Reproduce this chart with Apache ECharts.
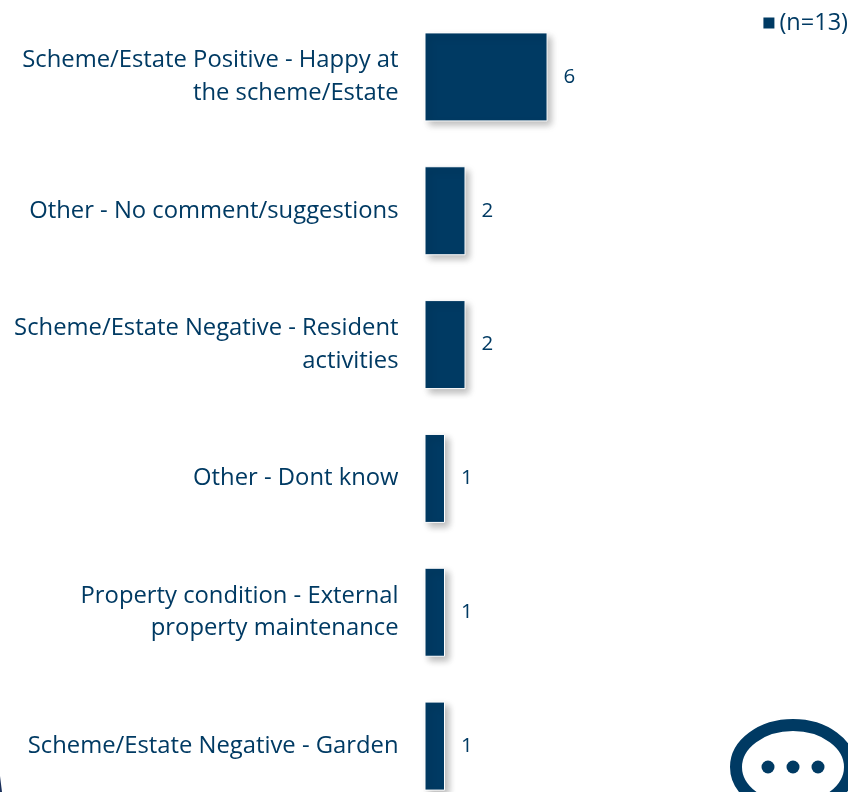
<!DOCTYPE html>
<html><head><meta charset="utf-8">
<style>html,body{margin:0;padding:0;background:#fff;overflow:hidden}#c{width:848px;height:792px}</style>
<script src="https://cdn.jsdelivr.net/npm/echarts@6/dist/echarts.min.js"></script>
</head><body><div id="c"></div>
<script>
const categories = [
  "Scheme/Estate Positive - Happy at\nthe scheme/Estate",
  "Other - No comment/suggestions",
  "Scheme/Estate Negative - Resident\nactivities",
  "Other - Dont know",
  "Property condition - External\nproperty maintenance",
  "Scheme/Estate Negative - Garden"
];
const values = [6, 2, 2, 1, 1, 1];
const seriesName = "(n=13)";
const navy = "#003a63";
const font = "Open Sans";
const chart = echarts.init(document.getElementById('c'), null, {renderer:'canvas'});
chart.setOption({
  animation:false,
  textStyle:{fontFamily:font,color:navy},
  legend:{show:true,top:11,right:0,padding:0,itemWidth:13,itemHeight:13,itemGap:6,icon:'rect',
    textStyle:{fontFamily:font,fontSize:23.5,color:navy,padding:[0,0,0,-1]},data:[seriesName]},
  grid:{left:424.5,top:10,width:400,height:803,outerBoundsMode:'none'},
  xAxis:{type:'value',min:0,max:19.5,show:false},
  yAxis:{type:'category',inverse:true,data:categories,
    axisLine:{show:false},axisTick:{show:false},
    axisLabel:{margin:26,align:'right',fontFamily:font,fontSize:23.8,lineHeight:32.5,color:navy}},
  series:[{type:'bar',name:seriesName,data:values,barWidth:89,
    itemStyle:{color:navy,borderColor:'#fff',borderWidth:1,shadowColor:'rgba(0,0,0,0.28)',shadowBlur:7,shadowOffsetX:4,shadowOffsetY:4},
    label:{show:true,position:'right',distance:16,fontFamily:font,fontSize:20.5,color:navy}}],
  graphic:[
    {type:'ellipse',shape:{cx:793,cy:767,rx:57,ry:42},style:{fill:'#fff',stroke:navy,lineWidth:12},silent:true},
    {type:'circle',shape:{cx:768,cy:767,r:6.5},style:{fill:navy},silent:true},
    {type:'circle',shape:{cx:793,cy:767,r:6.5},style:{fill:navy},silent:true},
    {type:'circle',shape:{cx:818,cy:767,r:6.5},style:{fill:navy},silent:true},
    {type:'polygon',shape:{points:[[0,776],[2,792],[0,792]]},style:{fill:'#1a2f5a'},silent:true}
  ]
});
</script></body></html>
